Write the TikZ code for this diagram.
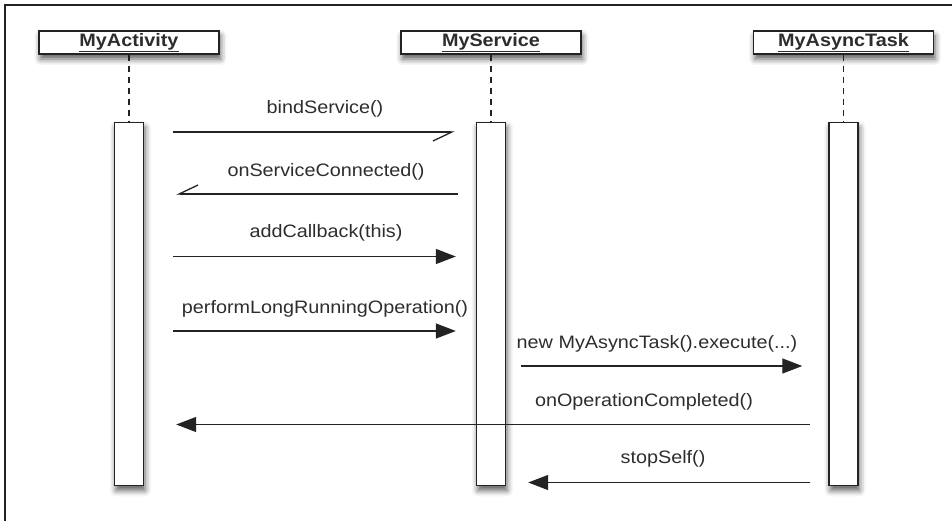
\documentclass[tikz,border=0pt]{standalone}
\usepackage{fontspec}
\setmainfont[FakeStretch=1.1]{Liberation Sans}
\usepackage{tikz}
\usetikzlibrary{arrows.meta,positioning,shadows.blur}
\definecolor{inkgrey}{RGB}{35, 35, 35}
\definecolor{textgrey}{RGB}{45, 45, 45}

\tikzset{
  boxshadow/.style={blur shadow={shadow xshift=1.5pt, shadow yshift=-5pt,
    shadow blur radius=6pt, shadow opacity=65}},
  header/.style={draw=inkgrey, line width=1.4pt, fill=white, minimum width=180pt,
    minimum height=23pt, inner sep=0pt, text=textgrey,
    font=\fontsize{18}{20}\selectfont\bfseries, boxshadow},
  activation/.style={draw=inkgrey, line width=1.4pt, fill=white, minimum width=29pt,
    minimum height=363pt, inner sep=0pt, boxshadow},
  lifeline/.style={draw=inkgrey, line width=1.2pt, dash pattern=on 6pt off 5pt},
  msglabel/.style={text=textgrey, inner sep=0pt, font=\fontsize{18}{20}\selectfont},
  syncmsg/.style={draw=inkgrey, line width=1.3pt, -{Triangle[length=20pt,width=15pt]}},
  asyncmsg/.style={draw=inkgrey, line width=1.3pt, -{Straight Barb[right,length=19pt,width=18pt]}}
}

\begin{document}
\begin{tikzpicture}[x=1pt, y=-1pt]
  \useasboundingbox (0,0) rectangle (952,521);
  % cropped outer frame
  \draw[inkgrey, line width=1.5pt] (952,5) -- (5,5) -- (5,521);

  % objects and lifelines
  \node[header] (hdrActivity) at (129,42.5) {\underline{MyActivity}};
  \node[header] (hdrService) at (491,42.5) {\underline{MyService}};
  \node[header] (hdrTask) at (843.5,42.5) {\underline{MyAsyncTask}};

  \node[activation, below=67pt of hdrActivity] (actActivity) {};
  \node[activation, below=67pt of hdrService] (actService) {};
  \node[activation, below=67pt of hdrTask] (actTask) {};

  \draw[lifeline] (hdrActivity) -- (actActivity);
  \draw[lifeline] (hdrService) -- (actService);
  \draw[lifeline] (hdrTask) -- (actTask);

  % messages
  \draw[asyncmsg, shorten <=29pt, shorten >=21pt] (actActivity.east |- 0,132) -- (actService.west |- 0,132);
  \node[msglabel] (lblBind) at (325,109) {bindService()};

  \draw[asyncmsg, shorten <=18pt, shorten >=32pt] (actService.west |- 0,194) -- (actActivity.east |- 0,194);
  \node[msglabel] (lblConnected) at (326,171.5) {onServiceConnected()};

  \draw[syncmsg, shorten <=29pt, shorten >=20pt] (actActivity.east |- 0,256.5) -- (actService.west |- 0,256.5);
  \node[msglabel] (lblCallback) at (326,233) {addCallback(this)};

  \draw[syncmsg, shorten <=29pt, shorten >=20pt] (actActivity.east |- 0,331) -- (actService.west |- 0,331);
  \node[msglabel] (lblPerform) at (325,308.5) {performLongRunningOperation()};

  \draw[syncmsg, shorten <=15pt, shorten >=26pt] (actService.east |- 0,366) -- (actTask.west |- 0,366);
  \node[msglabel] (lblExecute) at (657,343.5) {new MyAsyncTask().execute(...)};

  \draw[syncmsg, shorten <=18pt, shorten >=32pt] (actTask.west |- 0,424.5) -- (actActivity.east |- 0,424.5);
  \node[msglabel] (lblCompleted) at (644,401.5) {onOperationCompleted()};

  \draw[syncmsg, shorten <=18pt, shorten >=22pt] (actTask.west |- 0,482.5) -- (actService.east |- 0,482.5);
  \node[msglabel] (lblStop) at (663,459) {stopSelf()};
\end{tikzpicture}
\end{document}
